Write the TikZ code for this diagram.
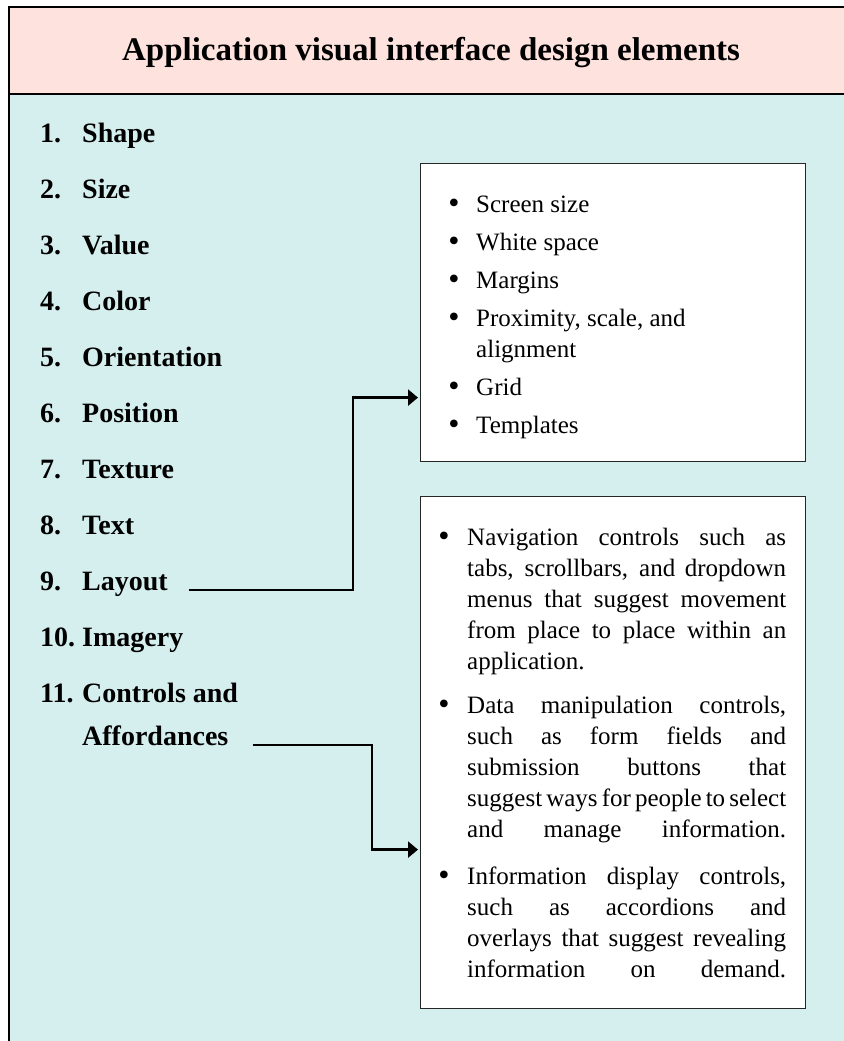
\documentclass[tikz,border=0pt]{standalone}
\usepackage{fontspec}
\setmainfont{Liberation Serif}
\usetikzlibrary{arrows.meta}
\definecolor{hdrpink}{HTML}{FDE2DD}
\definecolor{bodycyan}{HTML}{D4EFEE}
\newcommand\bodyfnt{\fontsize{25}{31}\selectfont}
\newcommand\jline[1]{\hbox to 319pt{\spaceskip=0.15em plus 2em minus 0.1em #1}}
\newcommand\pline[1]{\hbox{#1}}
\begin{document}
\begin{tikzpicture}[x=1pt,y=-1pt,
  listitem/.style={anchor=base west, inner sep=0, font=\fontsize{28}{34}\selectfont\bfseries},
  infobox/.style={draw=black!85, line width=1.2pt, fill=white, inner sep=0, anchor=north west},
  bodytext/.style={anchor=base west, inner sep=0, font=\bodyfnt},
  bul/.style={anchor=base, inner sep=0, font=\fontsize{32}{31}\selectfont},
  conn/.style={line width=2.5pt, -{Triangle[length=10pt,width=16pt]}}]
\useasboundingbox (0,0) rectangle (843,1041);
\fill[white] (0,0) rectangle (843,1041);
\fill[bodycyan] (9,94) rectangle (852,1045);
\fill[hdrpink] (9,7) rectangle (852,94);
\draw[line width=2pt] (852,7) -- (9,7) -- (9,1045);
\draw[line width=2.5pt] (9,94) -- (852,94);

\node[font=\fontsize{33}{40}\selectfont\bfseries, anchor=base, inner sep=0] (title) at (431,61) {Application visual interface design elements};

\node[listitem] (n1) at (40,142) {1.};  \node[listitem] (l1) at (82,142) {Shape};
\node[listitem] (n2) at (40,198) {2.};  \node[listitem] (l2) at (82,198) {Size};
\node[listitem] (n3) at (40,254) {3.};  \node[listitem] (l3) at (82,254) {Value};
\node[listitem] (n4) at (40,310) {4.};  \node[listitem] (l4) at (82,310) {Color};
\node[listitem] (n5) at (40,366) {5.};  \node[listitem] (l5) at (82,366) {Orientation};
\node[listitem] (n6) at (40,422) {6.};  \node[listitem] (l6) at (82,422) {Position};
\node[listitem] (n7) at (40,478) {7.};  \node[listitem] (l7) at (82,478) {Texture};
\node[listitem] (n8) at (40,534) {8.};  \node[listitem] (l8) at (82,534) {Text};
\node[listitem] (n9) at (40,590) {9.};  \node[listitem] (l9) at (82,590) {Layout};
\node[listitem] (n10) at (40,646) {10.}; \node[listitem] (l10) at (82,646) {Imagery};
\node[listitem] (n11) at (40,702) {11.}; \node[listitem] (l11) at (82,702) {Controls and};
\node[listitem] (l11b) at (82,745) {Affordances};

\node[infobox, minimum width=385pt, minimum height=298pt] (box1) at (420,163) {};
\node[infobox, minimum width=385pt, minimum height=512pt] (box2) at (420,496) {};

\node[bul] (b1a) at (454,213) {•}; \node[bodytext] (t1a) at (476,212) {Screen size};
\node[bul] (b1b) at (454,251) {•}; \node[bodytext] (t1b) at (476,250) {White space};
\node[bul] (b1c) at (454,289) {•}; \node[bodytext] (t1c) at (476,288) {Margins};
\node[bul] (b1d) at (454,327) {•}; \node[bodytext] (t1d) at (476,326) {\vtop{\pline{Proximity, scale, and}\pline{alignment}}};
\node[bul] (b1e) at (454,396) {•}; \node[bodytext] (t1e) at (476,395) {Grid};
\node[bul] (b1f) at (454,434) {•}; \node[bodytext] (t1f) at (476,433) {Templates};

\node[bul] (b2a) at (444,546) {•};
\node[bodytext] (t2a) at (467,545) {\vtop{%
\jline{Navigation controls such as}%
\jline{tabs, scrollbars, and dropdown}%
\jline{menus that suggest movement}%
\jline{from place to place within an}%
\pline{application.}}};
\node[bul] (b2b) at (444,714) {•};
\node[bodytext] (t2b) at (467,713) {\vtop{%
\jline{Data manipulation controls,}%
\jline{such as form fields and}%
\jline{submission buttons that}%
\jline{suggest ways for people to select}%
\jline{and manage information.}}};
\node[bul] (b2c) at (444,885) {•};
\node[bodytext] (t2c) at (467,884) {\vtop{%
\jline{Information display controls,}%
\jline{such as accordions and}%
\jline{overlays that suggest revealing}%
\jline{information on demand.}}};

\draw[conn] ([xshift=21pt]l9.base east) -| ([xshift=-67pt,yshift=-85pt]box1.west) -- ([xshift=-2pt,yshift=-85pt]box1.west);
\draw[conn] ([xshift=24pt]l11b.base east) -| ([xshift=-48pt,yshift=-97pt]box2.west) -- ([xshift=-2pt,yshift=-97pt]box2.west);
\end{tikzpicture}
\end{document}
